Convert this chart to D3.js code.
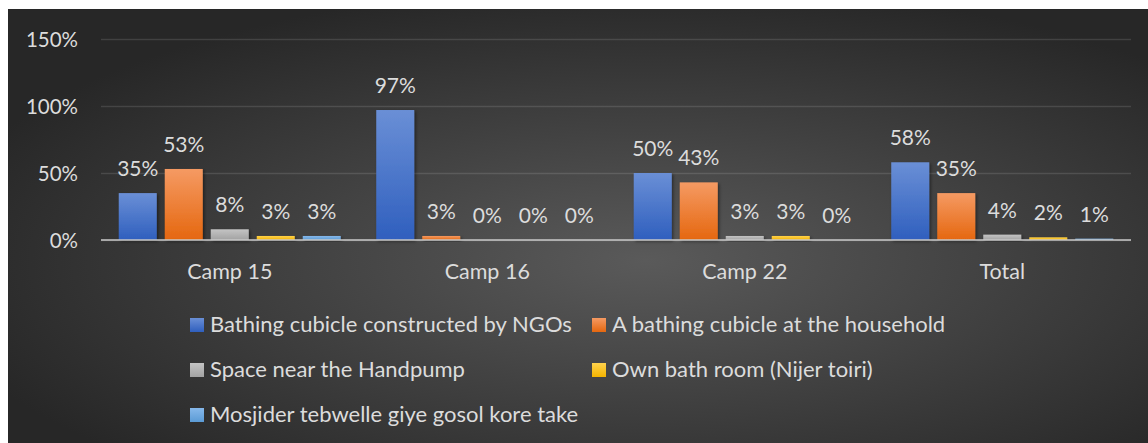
<!DOCTYPE html>
<html>
<head>
<meta charset="utf-8">
<script src="https://cdn.jsdelivr.net/npm/d3@7"></script>
<style>
  html, body { margin: 0; padding: 0; background: #ffffff; }
  svg { display: block; }
  text { font-family: Lato, "Open Sans", sans-serif; fill: #dcdcdc; }
</style>
</head>
<body>
<svg id="chart" width="1148" height="443"></svg>
<script>
// Where people bathe, share of respondents by camp
const categories = ["Camp 15", "Camp 16", "Camp 22", "Total"];
const seriesNames = [
  "Bathing cubicle constructed by NGOs",
  "A bathing cubicle at the household",
  "Space near the Handpump",
  "Own bath room (Nijer toiri)",
  "Mosjider tebwelle giye gosol kore take"
];
const ngoCubicle   = [0.35, 0.97, 0.50, 0.58];
const homeCubicle  = [0.53, 0.03, 0.43, 0.35];
const handpump     = [0.08, 0.00, 0.03, 0.04];
const ownBathroom  = [0.03, 0.00, 0.03, 0.02];
const mosque       = [0.03, 0.00, 0.00, 0.01];
const yTicks = [0, 0.5, 1, 1.5];

const seriesValues = [ngoCubicle, homeCubicle, handpump, ownBathroom, mosque];
const palette = [
  ["#6a8fd6", "#2f5fbe"],
  ["#f59a63", "#e5670f"],
  ["#c4c4c4", "#a2a2a2"],
  ["#ffd24d", "#f4b400"],
  ["#86b8ea", "#5b9bd5"]
];

const svg = d3.select("#chart");
const defs = svg.append("defs");

// chart background: dark radial wash
const bg = defs.append("radialGradient").attr("id", "bgGrad")
  .attr("cx", 0.56).attr("cy", 0.58).attr("r", 0.64);
bg.append("stop").attr("offset", "0%").attr("stop-color", "#5a5a5a");
bg.append("stop").attr("offset", "100%").attr("stop-color", "#272727");

palette.forEach((c, i) => {
  const g = defs.append("linearGradient").attr("id", "bar" + i)
    .attr("x1", 0).attr("y1", 0).attr("x2", 0).attr("y2", 1);
  g.append("stop").attr("offset", "0%").attr("stop-color", c[0]);
  g.append("stop").attr("offset", "100%").attr("stop-color", c[1]);
});

const shadow = defs.append("filter").attr("id", "shadow")
  .attr("x", "-20%").attr("y", "-20%").attr("width", "150%").attr("height", "150%");
shadow.append("feDropShadow").attr("dx", 1.5).attr("dy", 1.5)
  .attr("stdDeviation", 1.8).attr("flood-color", "#000").attr("flood-opacity", 0.45);

svg.append("rect").attr("x", 8).attr("y", 9).attr("width", 1140).attr("height", 434)
  .attr("fill", "url(#bgGrad)");

const plotLeft = 101, plotRight = 1131;
const x0 = d3.scaleBand().domain(categories).range([plotLeft, plotRight]).padding(0);
const groupHalf = 111;
const x1 = d3.scaleBand().domain(d3.range(seriesNames.length))
  .range([x0.bandwidth() / 2 - groupHalf, x0.bandwidth() / 2 + groupHalf])
  .paddingInner(8 / 46).paddingOuter(0);
const y = d3.scaleLinear().domain([0, 1.5]).range([240, 39]);
const pct = d3.format(".0%");

// gridlines and value axis labels
const yAxis = d3.axisLeft(y).tickValues(yTicks).tickFormat(pct)
  .tickSize(-(plotRight - plotLeft)).tickPadding(23);
const ga = svg.append("g").attr("transform", `translate(${plotLeft},0)`).call(yAxis);
ga.select(".domain").remove();
ga.selectAll(".tick line").attr("stroke", "#ffffff").attr("stroke-opacity", 0.12)
  .attr("stroke-width", 1.6);
ga.selectAll(".tick text").attr("fill", "#dcdcdc").attr("font-size", 20.5)
  .attr("font-family", "Lato, sans-serif").attr("dy", "0.36em");

// bars
const groups = svg.append("g").selectAll("g").data(categories).join("g")
  .attr("transform", d => `translate(${x0(d)},0)`);

groups.selectAll("rect")
  .data((c, ci) => seriesValues.map((vals, si) => ({ si, v: vals[ci] })))
  .join("rect")
  .attr("x", d => x1(d.si))
  .attr("width", x1.bandwidth())
  .attr("y", d => y(d.v))
  .attr("height", d => y(0) - y(d.v))
  .attr("fill", d => `url(#bar${d.si})`)
  .attr("filter", "url(#shadow)");

// category axis line
svg.append("line").attr("x1", plotLeft).attr("x2", plotRight)
  .attr("y1", y(0)).attr("y2", y(0))
  .attr("stroke", "#c8c8c8").attr("stroke-opacity", 0.75).attr("stroke-width", 2);

// data labels
groups.selectAll("text.val")
  .data((c, ci) => seriesValues.map((vals, si) => ({ si, v: vals[ci] })))
  .join("text").attr("class", "val")
  .attr("x", d => x1(d.si) + x1.bandwidth() / 2)
  .attr("y", d => y(d.v) - 17)
  .attr("text-anchor", "middle")
  .attr("font-size", 21)
  .text(d => pct(d.v));

// category labels
svg.append("g").selectAll("text").data(categories).join("text")
  .attr("x", d => x0(d) + x0.bandwidth() / 2)
  .attr("y", 279)
  .attr("text-anchor", "middle")
  .attr("font-size", 21.5)
  .text(d => d);

// legend, two columns
const legCols = [190, 592];
const legRows = [332, 377, 422];
const leg = svg.append("g").selectAll("g").data(seriesNames).join("g")
  .attr("transform", (d, i) => `translate(${legCols[i % 2]},${legRows[Math.floor(i / 2)]})`);
leg.append("rect").attr("x", 0).attr("y", -14).attr("width", 14).attr("height", 14)
  .attr("fill", (d, i) => `url(#bar${i})`);
leg.append("text").attr("x", 20).attr("y", 0).attr("font-size", 22).text(d => d);
</script>
</body>
</html>
